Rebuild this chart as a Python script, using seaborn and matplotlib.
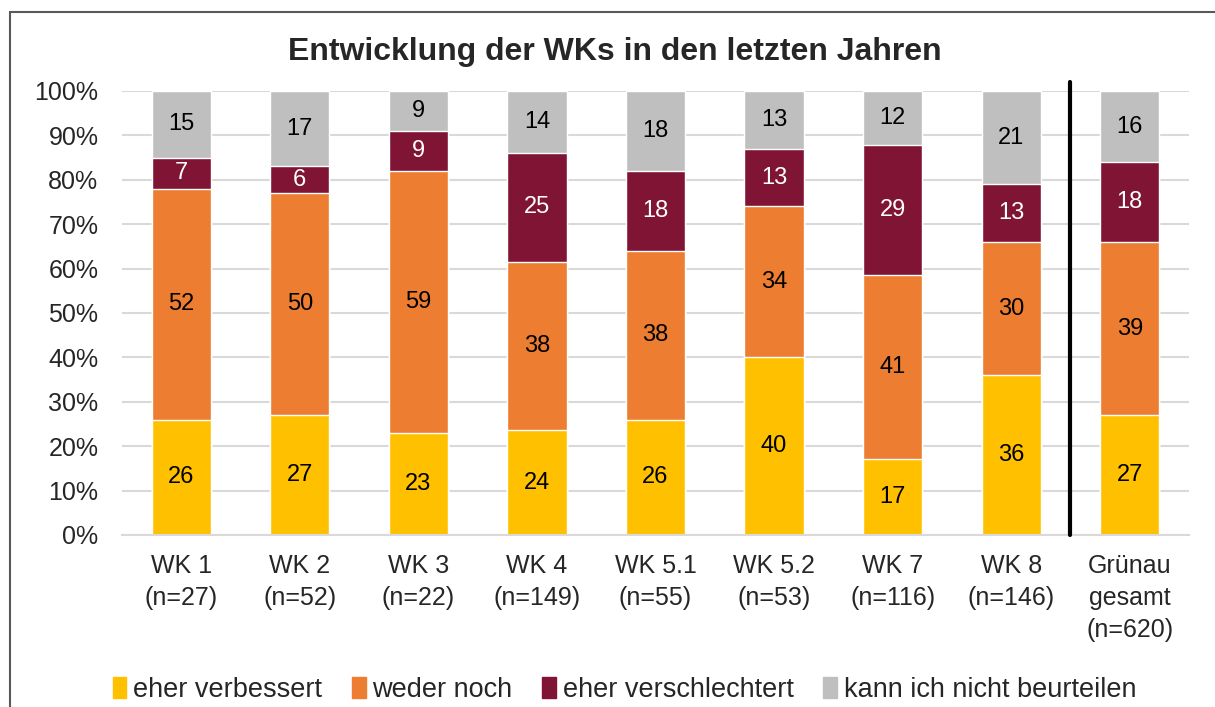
import matplotlib
matplotlib.use("Agg")
import matplotlib.pyplot as plt
import seaborn as sns
import pandas as pd
from matplotlib.patches import Rectangle

# categories and values (percent)
categories = ["WK 1\n(n=27)", "WK 2\n(n=52)", "WK 3\n(n=22)", "WK 4\n(n=149)",
              "WK 5.1\n(n=55)", "WK 5.2\n(n=53)", "WK 7\n(n=116)", "WK 8\n(n=146)",
              "Grünau\ngesamt\n(n=620)"]
verbessert = [26, 27, 23, 23.6, 26, 40, 17.2, 36, 27]
weder_noch = [52, 50, 59, 37.9, 38, 34, 41.3, 30, 39]
verschlechtert = [7, 6, 9, 24.6, 18, 13, 29.3, 13, 18]
nicht_beurteilen = [15, 17, 9, 13.9, 18, 13, 12.2, 21, 16]

series_names = ["eher verbessert", "weder noch", "eher verschlechtert", "kann ich nicht beurteilen"]
colors = ["#FFC000", "#ED7D31", "#7F1434", "#BFBFBF"]
label_colors = ["black", "black", "white", "black"]

df = pd.DataFrame({"cat": categories,
                   series_names[0]: verbessert,
                   series_names[1]: weder_noch,
                   series_names[2]: verschlechtert,
                   series_names[3]: nicht_beurteilen})

sns.set_theme(style="white")
plt.rcParams["font.family"] = ["Liberation Sans", "DejaVu Sans"]

fig = plt.figure(figsize=(12.15, 7.07), dpi=100)
ax = fig.add_axes([122 / 1215, 1 - 535 / 707, (1189 - 122) / 1215, (535 - 91) / 707])

# cumulative layers, drawn from top down so lower layers cover upper ones
cum = df[series_names].cumsum(axis=1)
for i in reversed(range(len(series_names))):
    sns.barplot(x=df["cat"], y=cum[series_names[i]], color=colors[i], width=0.5,
                saturation=1, ax=ax, zorder=2)

# value labels
for j in range(len(categories)):
    bottom = 0
    for i, s in enumerate(series_names):
        v = df[s][j]
        ax.text(j, bottom + v / 2, f"{round(v):d}", ha="center", va="center",
                fontsize=17, color=label_colors[i], zorder=3)
        bottom += v

ax.set_ylim(0, 100)
ax.set_xlim(-0.5, len(categories) - 0.5)
ax.set_yticks(range(0, 101, 10))
ax.set_yticklabels([f"{t}%" for t in range(0, 101, 10)], fontsize=18)
ax.set_xticks(range(len(categories)))
ax.set_xticklabels(categories, fontsize=18, linespacing=1.42, va="top")
ax.tick_params(axis="x", length=0, pad=14)
ax.tick_params(axis="y", length=0, pad=17)
ax.set_xlabel("")
ax.set_ylabel("")
ax.grid(axis="y", color="#D9D9D9", linewidth=1.5, zorder=0)
ax.set_axisbelow(True)
for sp in ["top", "right", "left"]:
    ax.spines[sp].set_visible(False)
ax.spines["bottom"].set_color("#D9D9D9")
ax.spines["bottom"].set_linewidth(1.5)

# separator between districts and total
ax.axvline(7.5, ymin=0, ymax=1.02, color="black", linewidth=3, clip_on=False, zorder=4)

fig.text(0.506, 1 - 52 / 707, "Entwicklung der WKs in den letzten Jahren",
         ha="center", va="center", fontsize=23, fontweight="bold")

# legend
handles = [Rectangle((0, 0), 1, 1, color=c) for c in colors]
fig.legend(handles, series_names, loc="center", bbox_to_anchor=(0.514, 1 - 690 / 707),
           ncol=4, frameon=False, fontsize=19.5, handlelength=0.5, handleheight=0.8,
           handletextpad=0.25, columnspacing=1.1)

# chart frame
fig.patches.append(Rectangle((10 / 1215, -0.1), 1.2, 1 - 12 / 707 + 0.1,
                             transform=fig.transFigure, fill=False,
                             edgecolor="#595959", linewidth=1.5))

fig.savefig("out.png", dpi=100)
